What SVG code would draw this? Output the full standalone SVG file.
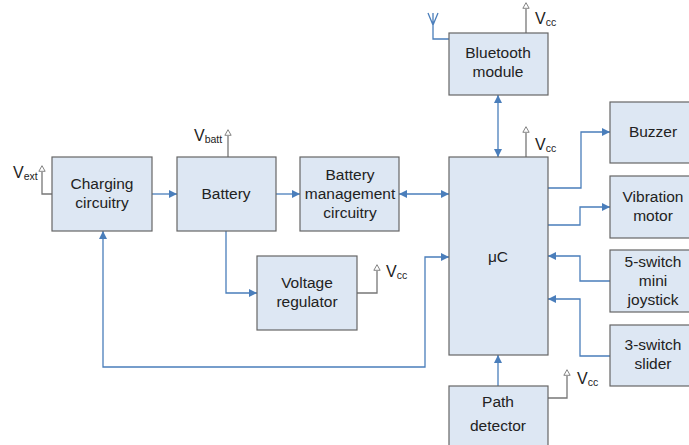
<svg xmlns="http://www.w3.org/2000/svg" width="689" height="445" viewBox="0 0 689 445">
<defs>
<marker id="ah" viewBox="0 0 10 10" refX="10" refY="5" markerWidth="9" markerHeight="8" markerUnits="userSpaceOnUse" orient="auto-start-reverse">
<path d="M0,0 L10,5 L0,10 z" fill="#4a7ebb"/>
</marker>
<marker id="hv" viewBox="0 0 10 10" refX="5" refY="10" markerWidth="9" markerHeight="7" markerUnits="userSpaceOnUse" orient="0">
<path d="M0.5,9 L5,1 L9.5,9 z" fill="#fff" stroke="#777" stroke-width="1.3"/>
</marker>
</defs>
<style>
.box{fill:#dde7f3;stroke:#666;stroke-width:1.2}
.t{font-family:"Liberation Sans",Arial,sans-serif;font-size:15.5px;fill:#222;text-anchor:middle}
.v{font-family:"Liberation Sans",Arial,sans-serif;font-size:16px;fill:#222}
.s{font-size:10.5px}
.c{fill:none;stroke:#4a7ebb;stroke-width:1.3}
.p{fill:none;stroke:#777;stroke-width:1.3}
</style>
<rect width="689" height="445" fill="#fff"/>
<g id="connectors">
<path class="c" d="M152,194 H177" marker-end="url(#ah)"/>
<path class="c" d="M276,194 H300" marker-end="url(#ah)"/>
<path class="c" d="M399,194 H449" marker-start="url(#ah)" marker-end="url(#ah)"/>
<path class="c" d="M498,95 V157" marker-start="url(#ah)" marker-end="url(#ah)"/>
<path class="c" d="M226,231 V293 H257" marker-end="url(#ah)"/>
<path class="c" d="M103,231 V367 H425 V257 H449" marker-start="url(#ah)" marker-end="url(#ah)"/>
<path class="c" d="M548,188 H581 V132 H610" marker-end="url(#ah)"/>
<path class="c" d="M548,225 H580 V207 H610" marker-end="url(#ah)"/>
<path class="c" d="M610,281 H580 V256 H548" marker-end="url(#ah)"/>
<path class="c" d="M610,356 H580 V299 H548" marker-end="url(#ah)"/>
<path class="c" d="M498,386 V355" marker-end="url(#ah)"/>
<path class="c" d="M449,39 H433 V13 M428,13 L433,25 L438,13"/>
<path class="p" d="M52,194 H42 V172" marker-end="url(#hv)"/>
<path class="p" d="M228,157 V136" marker-end="url(#hv)"/>
<path class="p" d="M526,33 V9" marker-end="url(#hv)"/>
<path class="p" d="M526,157 V133" marker-end="url(#hv)"/>
<path class="p" d="M357,293 H377 V271" marker-end="url(#hv)"/>
<path class="p" d="M548,398 H567 V376" marker-end="url(#hv)"/>
</g>
<g id="vlabels">
<text class="v" x="13" y="178">V<tspan class="s" dy="2">ext</tspan></text>
<text class="v" x="194" y="141">V<tspan class="s" dy="2">batt</tspan></text>
<text class="v" x="535" y="24">V<tspan class="s" dy="2">cc</tspan></text>
<text class="v" x="535" y="150">V<tspan class="s" dy="2">cc</tspan></text>
<text class="v" x="386" y="277">V<tspan class="s" dy="2">cc</tspan></text>
<text class="v" x="577" y="384">V<tspan class="s" dy="2">cc</tspan></text>
</g>
<g id="charging"><rect class="box" x="52" y="157" width="100" height="74"/><text class="t" x="102" y="189">Charging</text><text class="t" x="102" y="208">circuitry</text></g>
<g id="battery"><rect class="box" x="177" y="157" width="99" height="74"/><text class="t" x="226" y="199">Battery</text></g>
<g id="bms"><rect class="box" x="300" y="157" width="99" height="74"/><text class="t" x="350" y="180">Battery</text><text class="t" x="350" y="199">management</text><text class="t" x="350" y="218">circuitry</text></g>
<g id="uc"><rect class="box" x="449" y="157" width="99" height="198"/><text class="t" x="498" y="262">μC</text></g>
<g id="bluetooth"><rect class="box" x="449" y="33" width="99" height="62"/><text class="t" x="498" y="58">Bluetooth</text><text class="t" x="498" y="77">module</text></g>
<g id="regulator"><rect class="box" x="257" y="256" width="100" height="74"/><text class="t" x="307" y="288">Voltage</text><text class="t" x="307" y="307">regulator</text></g>
<g id="buzzer"><rect class="box" x="610" y="102" width="86" height="61"/><text class="t" x="653" y="137">Buzzer</text></g>
<g id="vibration"><rect class="box" x="610" y="176" width="86" height="62"/><text class="t" x="653" y="202">Vibration</text><text class="t" x="653" y="221">motor</text></g>
<g id="joystick"><rect class="box" x="610" y="250" width="86" height="62"/><text class="t" x="653" y="267">5-switch</text><text class="t" x="653" y="286">mini</text><text class="t" x="653" y="305">joystick</text></g>
<g id="slider"><rect class="box" x="610" y="325" width="86" height="61"/><text class="t" x="653" y="350">3-switch</text><text class="t" x="653" y="369">slider</text></g>
<g id="path"><rect class="box" x="449" y="386" width="99" height="70"/><text class="t" x="498" y="407">Path</text><text class="t" x="498" y="431">detector</text></g>
</svg>
